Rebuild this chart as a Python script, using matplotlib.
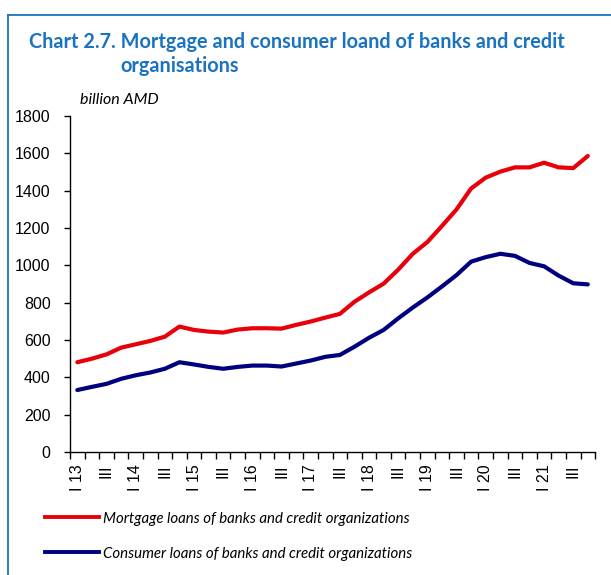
import numpy as np
import matplotlib.pyplot as plt
from matplotlib.lines import Line2D

# quarterly data, I 2013 - IV 2021, billion AMD
years = ['13', '14', '15', '16', '17', '18', '19', '20', '21']
mortgage = [481, 500, 523, 559, 577, 595, 618, 672, 654, 645, 640, 656,
            663, 663, 661, 681, 699, 720, 740, 805, 855, 902, 977, 1062,
            1125, 1211, 1300, 1412, 1470, 1502, 1525, 1525, 1550, 1525, 1521, 1586]
consumer = [332, 349, 365, 392, 411, 426, 446, 481, 469, 456, 446, 456,
            463, 463, 458, 474, 490, 510, 520, 564, 612, 654, 716, 774,
            828, 887, 948, 1020, 1044, 1062, 1051, 1013, 995, 945, 904, 898]

labels = []
for y in years:
    labels += ['I ' + y, '', 'III', '']

red = '#e8000b'
navy = '#00007f'
blue = '#1a73c0'

fig = plt.figure(figsize=(6.11, 5.75), dpi=100)
ax = fig.add_axes([0.1146, 0.2139, 0.8594, 0.5843])

x = np.arange(len(mortgage))
ax.plot(x, mortgage, color=red, lw=3.0, solid_capstyle='round', solid_joinstyle='round')
ax.plot(x, consumer, color=navy, lw=3.0, solid_capstyle='round', solid_joinstyle='round')

ax.set_xlim(-0.5, len(mortgage) - 0.5)
ax.set_ylim(0, 1800)
ax.set_yticks(range(0, 1801, 200))
ax.tick_params(axis='y', direction='out', length=4, width=1, pad=10,
               labelsize=11.5, labelfontfamily='Liberation Sans')

# major ticks on category edges, labels on category centres
ax.set_xticks(np.arange(-0.5, len(mortgage), 1.0))
ax.set_xticklabels([])
ax.set_xticks(x, minor=True)
ax.set_xticklabels(labels, minor=True, rotation=90, fontsize=11.5,
                   family='Liberation Sans', va='top', ha='center')
ax.tick_params(axis='x', which='major', direction='out', length=5, width=1)
ax.tick_params(axis='x', which='minor', length=0, pad=9)

for s in ['top', 'right']:
    ax.spines[s].set_visible(False)
for s in ['left', 'bottom']:
    ax.spines[s].set_linewidth(1)

# frame lines
fig.add_artist(Line2D([8 / 611, 8 / 611], [0, 1 - 15 / 575], color=blue, lw=1.3))
fig.add_artist(Line2D([8 / 611, 1], [1 - 15 / 575, 1 - 15 / 575], color=blue, lw=1.3))

fig.text(29 / 611, 1 - 42 / 575, 'Chart 2.7. Mortgage and consumer loand of banks and credit',
         color=blue, fontsize=14.3, fontweight='bold', family='Lato', va='center')
fig.text(120 / 611, 1 - 66 / 575, 'organisations',
         color=blue, fontsize=14.3, fontweight='bold', family='Lato', va='center')
fig.text(80 / 611, 1 - 100 / 575, 'billion AMD', fontsize=11.5, style='italic',
         family='Lato', va='center')

# legend drawn by hand below the chart
fig.add_artist(Line2D([45 / 611, 99 / 611], [1 - 517 / 575] * 2, color=red, lw=2.8))
fig.add_artist(Line2D([45 / 611, 99 / 611], [1 - 552 / 575] * 2, color=navy, lw=2.8))
fig.text(103 / 611, 1 - 519 / 575, 'Mortgage loans of banks and credit organizations',
         fontsize=10.8, style='italic', family='Lato', va='center')
fig.text(103 / 611, 1 - 554 / 575, 'Consumer loans of banks and credit organizations',
         fontsize=10.8, style='italic', family='Lato', va='center')

fig.savefig('out.png', dpi=100)
